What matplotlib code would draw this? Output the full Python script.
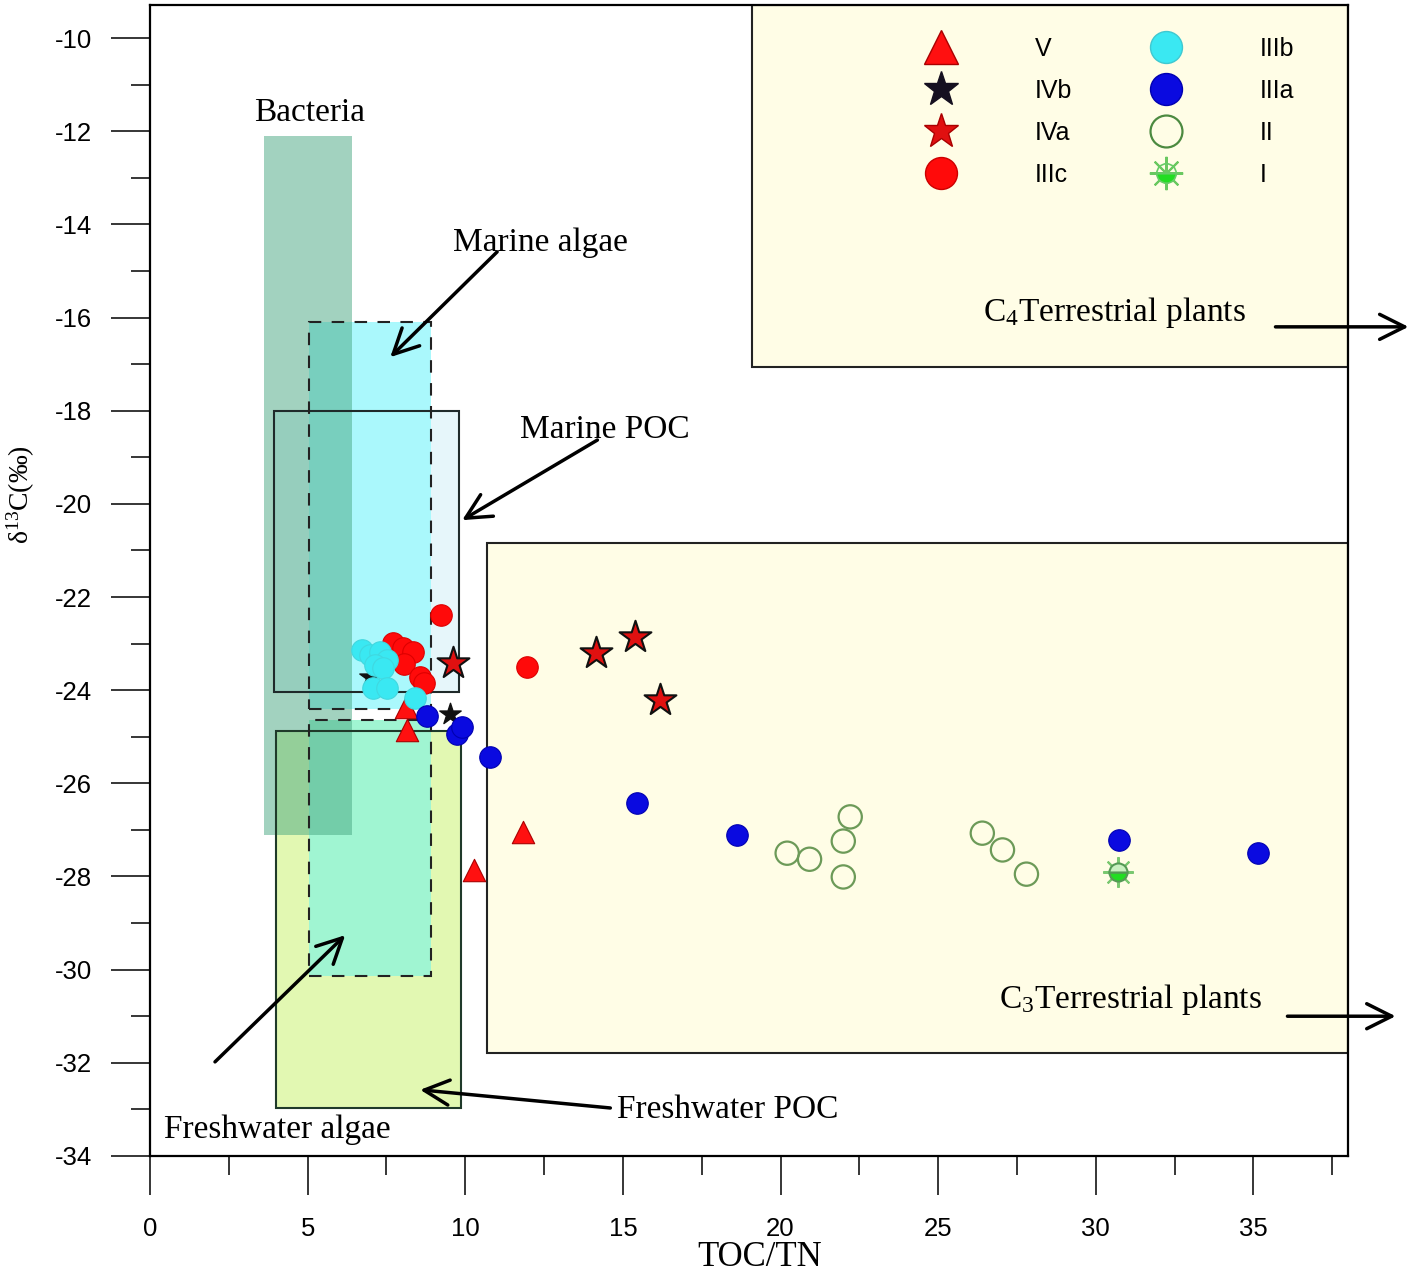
import matplotlib
matplotlib.use("Agg")
import matplotlib.pyplot as plt
from matplotlib.patches import Rectangle
from matplotlib.lines import Line2D
from matplotlib.ticker import MultipleLocator

plt.rcParams['font.family'] = ['Liberation Sans', 'DejaVu Sans']
plt.rcParams['axes.unicode_minus'] = False
plt.rcParams['mathtext.fontset'] = 'custom'
plt.rcParams['mathtext.rm'] = 'Liberation Serif'
plt.rcParams['mathtext.it'] = 'Liberation Serif:italic'
SERIF = ['Liberation Serif', 'DejaVu Serif']

# ---- data (TOC/TN, d13C) ----
v_x = [8.12, 8.16, 11.84, 10.28]
v_y = [-24.36, -24.86, -27.05, -27.86]

ivb_x = [6.98, 9.52]
ivb_y = [-23.72, -24.51]

iva_x = [9.62, 14.15, 15.39, 16.19]
iva_y = [-23.42, -23.2, -22.86, -24.21]

iiic_x = [9.24, 11.96, 7.71, 8.03, 8.35, 8.06, 8.57, 8.70]
iiic_y = [-22.39, -23.5, -22.99, -23.09, -23.18, -23.44, -23.72, -23.85]

iiib_x = [6.73, 6.98, 7.30, 7.52, 7.14, 7.39, 7.08, 7.52, 8.41]
iiib_y = [-23.14, -23.25, -23.18, -23.35, -23.46, -23.52, -23.95, -23.95, -24.17]

iiia_x = [8.79, 9.75, 9.90, 10.79, 15.46, 18.63, 30.75, 35.16]
iiia_y = [-24.56, -24.95, -24.8, -25.44, -26.42, -27.11, -27.22, -27.5]

ii_x = [20.21, 20.92, 22.21, 21.99, 21.99, 26.4, 27.04, 27.8]
ii_y = [-27.5, -27.63, -26.72, -27.24, -28.01, -27.07, -27.43, -27.95]

i_x = [30.69]
i_y = [-27.9]

# source fields: (x0, x1, y0, y1)
c4_box = (19.1, 38.0, -17.06, -9.29)
c3_box = (10.7, 38.0, -31.79, -20.84)
fw_poc_box = (4.0, 9.87, -32.97, -24.88)
mar_poc_box = (3.94, 9.81, -24.04, -18.01)
mar_algae_box = (5.05, 8.92, -24.4, -16.1)
fw_algae_box = (5.05, 8.92, -30.14, -24.65)
bact_box = (3.6, 6.4, -27.1, -12.1)

fig = plt.figure(figsize=(14.17, 12.79), dpi=100)
ax = fig.add_axes([0.1059, 0.0962, 0.8454, 0.8999])


def box(b, fc, ec='none', ls='-', lw=1.5, alpha=1.0, z=1):
    x0, x1, y0, y1 = b
    ax.add_patch(Rectangle((x0, y0), x1 - x0, y1 - y0, facecolor=fc,
                           edgecolor=ec, linestyle=ls, lw=lw, alpha=alpha,
                           zorder=z))


# fills
box(c4_box, '#fffde6', z=1)
box(c3_box, '#fffde6', z=1)
box(fw_poc_box, '#e2f8b2', z=1.1)
box(mar_poc_box, '#e6f6fa', z=1.1)
box(mar_algae_box, '#aaf8fc', z=1.2)
box(fw_algae_box, '#a0f5d2', z=1.2)
box(bact_box, '#47a781', alpha=0.5, z=1.3)
# outlines
box(c4_box, 'none', ec='#222222', lw=1.5, z=1.5)
box(c3_box, 'none', ec='#222222', lw=1.5, z=1.5)
box(fw_poc_box, 'none', ec='#1f3a2a', lw=1.5, z=1.5)
box(mar_poc_box, 'none', ec='#1f2a2a', lw=1.5, z=1.5)
box(mar_algae_box, 'none', ec='#222222', ls=(0, (6, 5)), lw=1.5, z=1.5)
box(fw_algae_box, 'none', ec='#222222', ls=(0, (6, 5)), lw=1.5, z=1.5)

# points
ax.scatter(ivb_x, ivb_y, marker='*', s=260, c='#111111', zorder=3)
ax.scatter(v_x, v_y, marker='^', s=260, c='#ff1010', edgecolors='#aa0000', lw=0.8, zorder=3)
ax.scatter(iiic_x, iiic_y, marker='o', s=240, c='#ff0a0a', edgecolors='#dd0000', lw=0.8, zorder=3)
ax.scatter(iiib_x, iiib_y, marker='o', s=240, c='#3ae8f2', edgecolors='#40d8e0', lw=0.8, zorder=3.1)
ax.scatter(iiia_x, iiia_y, marker='o', s=240, c='#0a0ae0', edgecolors='#0000b0', lw=0.8, zorder=3.2)
ax.scatter(iva_x, iva_y, marker='*', s=580, c='#e01010', edgecolors='#111111', lw=1.5, zorder=3.3)
ax.scatter(ii_x, ii_y, marker='o', s=280, facecolors='none', edgecolors='#6c9a58', lw=1.6, zorder=3)
ax.plot(i_x, i_y, marker=(8, 2, 0), ms=22, color='#7ac870', mew=1.5, ls='none', zorder=3)
ax.plot(i_x, i_y, marker='o', ms=13, fillstyle='bottom', markerfacecolor='#22dd22',
        markerfacecoloralt='#c8f0c0', markeredgecolor='#559955', mew=1.5, ls='none', zorder=3.1)

# labels and arrows
tkw = dict(family=SERIF, fontsize=24, ha='center', va='center', zorder=4)
ax.text(5.05, -11.6, 'Bacteria', **tkw)
ax.text(12.38, -14.4, 'Marine algae', **tkw)
ax.text(14.44, -18.4, 'Marine POC', **tkw)
ax.text(30.6, -15.9, 'C$_4$Terrestrial plants', **tkw)
ax.text(31.1, -30.65, 'C$_3$Terrestrial plants', **tkw)
ax.text(18.31, -33.01, 'Freshwater POC', **tkw)
ax.text(4.03, -33.44, 'Freshwater algae', **tkw)

arrows = [
    ((11.01, -14.59), (7.62, -16.85)),
    ((14.19, -18.63), (9.90, -20.35)),
    ((35.7, -16.2), (39.92, -16.2)),
    ((36.08, -31.0), (39.51, -31.0)),
    ((14.6, -32.97), (8.57, -32.58)),
    ((2.06, -31.98), (6.19, -29.26)),
]
for start, end in arrows:
    ax.annotate('', xy=end, xytext=start, annotation_clip=False, zorder=4,
                arrowprops=dict(arrowstyle='->', lw=2.5, color='black',
                                mutation_scale=45, shrinkA=0, shrinkB=0))

# legend
handles = [
    Line2D([], [], ls='none', marker='^', ms=24, mfc='#ff1010', mec='#aa0000', mew=1),
    Line2D([], [], ls='none', marker='*', ms=26, mfc='#151020', mec='#151020'),
    Line2D([], [], ls='none', marker='*', ms=26, mfc='#e01010', mec='#aa0000', mew=1),
    Line2D([], [], ls='none', marker='o', ms=23, mfc='#ff0a0a', mec='#cc0000', mew=1),
    Line2D([], [], ls='none', marker='o', ms=23, mfc='#3ae8f2', mec='#40c8d0', mew=1),
    Line2D([], [], ls='none', marker='o', ms=23, mfc='#0a0ae0', mec='#0000b0', mew=1),
    Line2D([], [], ls='none', marker='o', ms=23, mfc='none', mec='#4c8a40', mew=1.6),
    (Line2D([], [], ls='none', marker=(8, 2, 0), ms=24, color='#6ac860', mew=1.5),
     Line2D([], [], ls='none', marker='o', ms=14, fillstyle='bottom', mfc='#22dd22',
            mfcalt='none', mec='#66cc66', mew=1.2)),
]
labels = ['V', 'IVb', 'IVa', 'IIIc', 'IIIb', 'IIIa', 'II', 'I']
ax.legend(handles, labels, ncol=2, loc='upper left', bbox_to_anchor=(0.645, 0.972),
          frameon=False, fontsize=18, handlelength=1.5, handletextpad=3.0,
          columnspacing=3.0, labelspacing=0.72, borderpad=0, borderaxespad=0)

# axes
ax.set_xlim(0, 38.0)
ax.set_ylim(-34, -9.29)
ax.xaxis.set_major_locator(MultipleLocator(5))
ax.xaxis.set_minor_locator(MultipleLocator(2.5))
ax.yaxis.set_major_locator(MultipleLocator(2))
ax.yaxis.set_minor_locator(MultipleLocator(1))
ax.tick_params(which='major', direction='out', length=28, width=1.1, labelsize=18.5)
ax.tick_params(which='minor', direction='out', length=14, width=1.1)
ax.tick_params(axis='x', which='major', pad=16)
ax.tick_params(axis='y', which='major', pad=14)
for sp in ax.spines.values():
    sp.set_linewidth(1.6)

fig.text(0.5363, 0.0168, 'TOC/TN', family=SERIF, fontsize=25,
         ha='center', va='center')
fig.text(0.0148, 0.613, 'δ$^{13}$C(‰)', family=SERIF, fontsize=20,
         rotation=90, ha='center', va='center')

fig.savefig('out.png', dpi=100)
